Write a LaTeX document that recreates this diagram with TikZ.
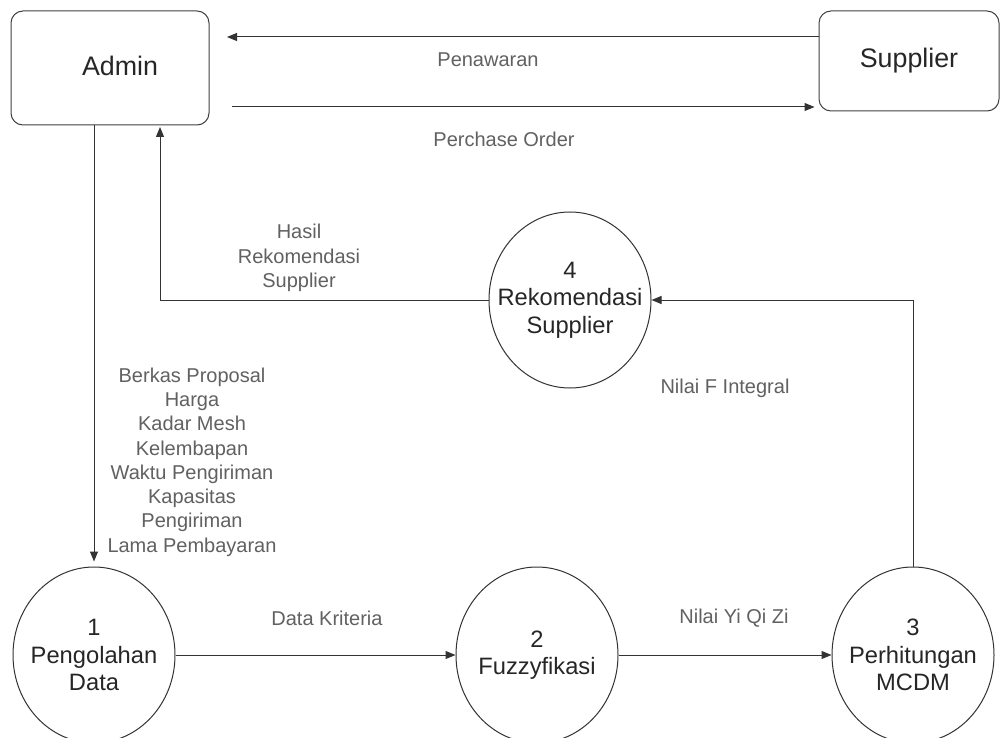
\documentclass[tikz,border=0pt]{standalone}
\usepackage{fontspec}
\setmainfont{Liberation Sans}
\usetikzlibrary{arrows.meta,shapes.geometric}
\begin{document}
\begin{tikzpicture}[x=1pt,y=-1pt,
  line/.style={draw=black!80, line width=1pt},
  flow/.style={line, -{Triangle[length=10pt,width=8pt]}},
  entity/.style={draw=black!75, line width=1pt, rounded corners=12pt, inner sep=0pt, font=\fontsize{26.8}{30}\selectfont, text=black!85},
  proc/.style={draw=black!80, line width=1pt, ellipse, minimum width=162pt, minimum height=176pt, inner sep=0pt},
  proctxt/.style={align=center, inner sep=0pt, font=\fontsize{23.7}{27.5}\selectfont, text=black!85},
  lbl/.style={align=center, font=\fontsize{20}{24.3}\selectfont, text=black!62, inner sep=0pt}]
\fill[white] (0,0) rectangle (1001,738);
\useasboundingbox (0,0) rectangle (1001,738);

% entities
\node[entity, minimum width=198pt, minimum height=114pt] (admin) at (110,68) {};
\node[font=\fontsize{26.8}{30}\selectfont, text=black!85, inner sep=0pt] (admintxt) at (120,66) {Admin};
\node[entity, minimum width=180pt, minimum height=100pt] (supplier) at (909,61) {Supplier};

% processes
\node[proc] (p1) at (94,655) {};
\node[proctxt] (p1t) at (p1) {1\\Pengolahan\\Data};
\node[proc] (p2) at (537,655) {};
\node[proctxt] (p2t) at (p2) {2\\Fuzzyfikasi};
\node[proc] (p3) at (913,655) {};
\node[proctxt] (p3t) at (p3) {3\\Perhitungan\\MCDM};
\node[proc] (p4) at (570,300) {};
\node[proctxt] (p4t) at (p4) {4\\Rekomendasi\\Supplier};

% free ends
\coordinate (penEnd) at (227,37);
\coordinate (poStart) at (232,107);
\coordinate (a1) at (94,125);
\coordinate (a2) at (160,125);

% connectors
\draw[flow] (supplier.west |- penEnd) -- (penEnd);
\draw[flow, shorten >=4pt] (poStart) -- (supplier.west |- poStart);
\draw[flow, shorten >=5pt] (a1) -- (a1 |- p1.north);
\draw[flow, shorten >=2pt] (p4.west) -| (a2);
\draw[flow] (p3.north) |- (p4.east);
\draw[flow] (p1.east) -- (p2.west);
\draw[flow] (p2.east) -- (p3.west);

% labels
\node[lbl] (lpen) at (488,60) {Penawaran};
\node[lbl] (lpo) at (504,139) {Perchase Order};
\node[lbl] (lhasil) at (299,258) {Hasil\\Rekomendasi\\Supplier};
\node[lbl] (lberkas) at (192,462) {Berkas Proposal\\Harga\\Kadar Mesh\\Kelembapan\\Waktu Pengiriman\\Kapasitas\\Pengiriman\\Lama Pembayaran};
\node[lbl] (lnilaif) at (725,388) {Nilai F Integral};
\node[lbl] (ldata) at (327,618) {Data Kriteria};
\node[lbl] (lnilaiy) at (734,618) {Nilai Yi Qi Zi};
\end{tikzpicture}
\end{document}
